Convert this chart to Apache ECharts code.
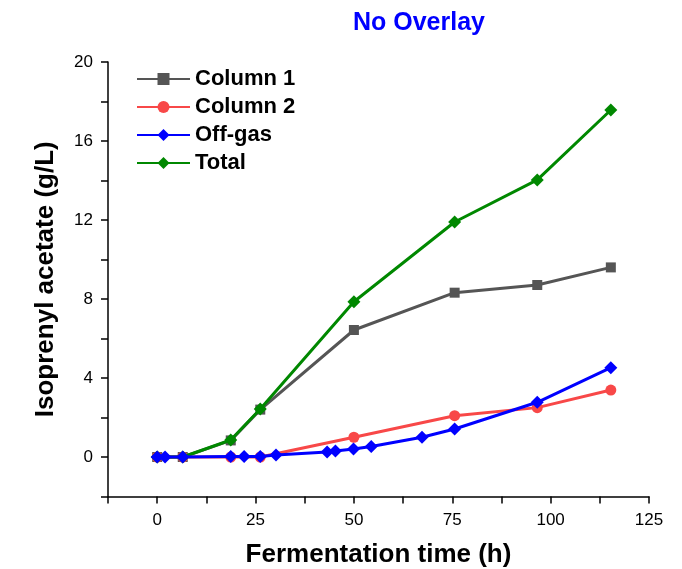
<!DOCTYPE html>
<html>
<head>
<meta charset="utf-8">
<script src="https://cdn.jsdelivr.net/npm/echarts@6/dist/echarts.min.js"></script>
<style>
  html, body { margin: 0; padding: 0; background: #fff; }
  #main { width: 682px; height: 569px; }
</style>
</head>
<body>
<div id="main"></div>
<script>
// sampling times (h)
var timeColumns = [0, 6.5, 18.7, 26.2, 50, 75.6, 96.6, 115.3];
var column1 = [0, 0, 0.84, 2.4, 6.43, 8.32, 8.71, 9.6];
var column2 = [0, 0, 0, 0, 1.0, 2.09, 2.5, 3.39];
var total = [0, 0, 0.86, 2.43, 7.86, 11.9, 14.03, 17.57];

var timeOffgas = [0, 2, 6.5, 18.7, 22.1, 26.2, 30.2, 43.2, 45.3, 49.9, 54.4, 67.3, 75.6, 96.6, 115.3];
var offgas = [0, 0, 0, 0.02, 0.02, 0.03, 0.1, 0.25, 0.3, 0.4, 0.53, 1.0, 1.42, 2.77, 4.52];

var xTicks = [0, 25, 50, 75, 100, 125];
var yTicks = [0, 4, 8, 12, 16, 20];

function pairs(xs, ys) {
	return xs.map(function (x, i) { return [x, ys[i]]; });
}

var chart = echarts.init(document.getElementById('main'));

var option = {
	animation: false,
	title: {
		text: 'No Overlay',
		left: 414,
		top: 6,
		textAlign: 'center',
		textStyle: { color: '#0000ff', fontSize: 25, fontWeight: 'bold', fontFamily: 'Liberation Sans' }
	},
	legend: {
		orient: 'vertical',
		left: 131,
		top: 63,
		itemWidth: 53,
		itemHeight: 15,
		itemGap: 6,
		textStyle: { fontSize: 22, fontWeight: 'bold', color: '#000', fontFamily: 'Liberation Sans' },
		data: ['Column 1', 'Column 2', 'Off-gas', 'Total']
	},
	grid: { left: 108, right: 33, top: 62, bottom: 72.5, outerBoundsMode: 'none' },
	xAxis: {
		type: 'value',
		min: -12.5,
		max: 125,
		interval: 12.5,
		name: 'Fermentation time (h)',
		nameLocation: 'middle',
		nameGap: 45,
		nameTextStyle: { fontSize: 26, fontWeight: 'bold', color: '#000', fontFamily: 'Liberation Sans' },
		axisLine: { onZero: false, lineStyle: { color: '#000', width: 1.5 } },
		axisTick: { length: 7, lineStyle: { color: '#000', width: 1.5 } },
		axisLabel: {
			customValues: xTicks,
			margin: 15,
			fontSize: 17,
			color: '#000',
			fontFamily: 'Liberation Sans'
		},
		splitLine: { show: false }
	},
	yAxis: {
		type: 'value',
		min: -2,
		max: 20,
		interval: 2,
		name: 'Isoprenyl acetate (g/L)',
		nameLocation: 'middle',
		nameGap: 49,
		nameTextStyle: { fontSize: 26, fontWeight: 'bold', color: '#000', fontFamily: 'Liberation Sans' },
		axisLine: { show: true, onZero: false, lineStyle: { color: '#000', width: 1.5 } },
		axisTick: { show: true, length: 7, lineStyle: { color: '#000', width: 1.5 } },
		axisLabel: {
			customValues: yTicks,
			margin: 15,
			fontSize: 17,
			color: '#000',
			fontFamily: 'Liberation Sans'
		},
		splitLine: { show: false }
	},
	series: [
		{
			name: 'Column 1',
			type: 'line',
			z: 1,
			data: pairs(timeColumns, column1),
			symbol: 'rect',
			symbolSize: 10,
			itemStyle: { color: '#555555' },
			lineStyle: { color: '#555555', width: 3 }
		},
		{
			name: 'Column 2',
			type: 'line',
			z: 2,
			data: pairs(timeColumns, column2),
			symbol: 'circle',
			symbolSize: 11,
			itemStyle: { color: '#f84848' },
			lineStyle: { color: '#f84848', width: 3 }
		},
		{
			name: 'Off-gas',
			type: 'line',
			z: 4,
			data: pairs(timeOffgas, offgas),
			symbol: 'diamond',
			symbolSize: 13,
			itemStyle: { color: '#0000ff' },
			lineStyle: { color: '#0000ff', width: 3 }
		},
		{
			name: 'Total',
			type: 'line',
			z: 3,
			data: pairs(timeColumns, total),
			symbol: 'diamond',
			symbolSize: 13,
			itemStyle: { color: '#008800' },
			lineStyle: { color: '#008800', width: 3 }
		}
	]
};

chart.setOption(option);
</script>
</body>
</html>
